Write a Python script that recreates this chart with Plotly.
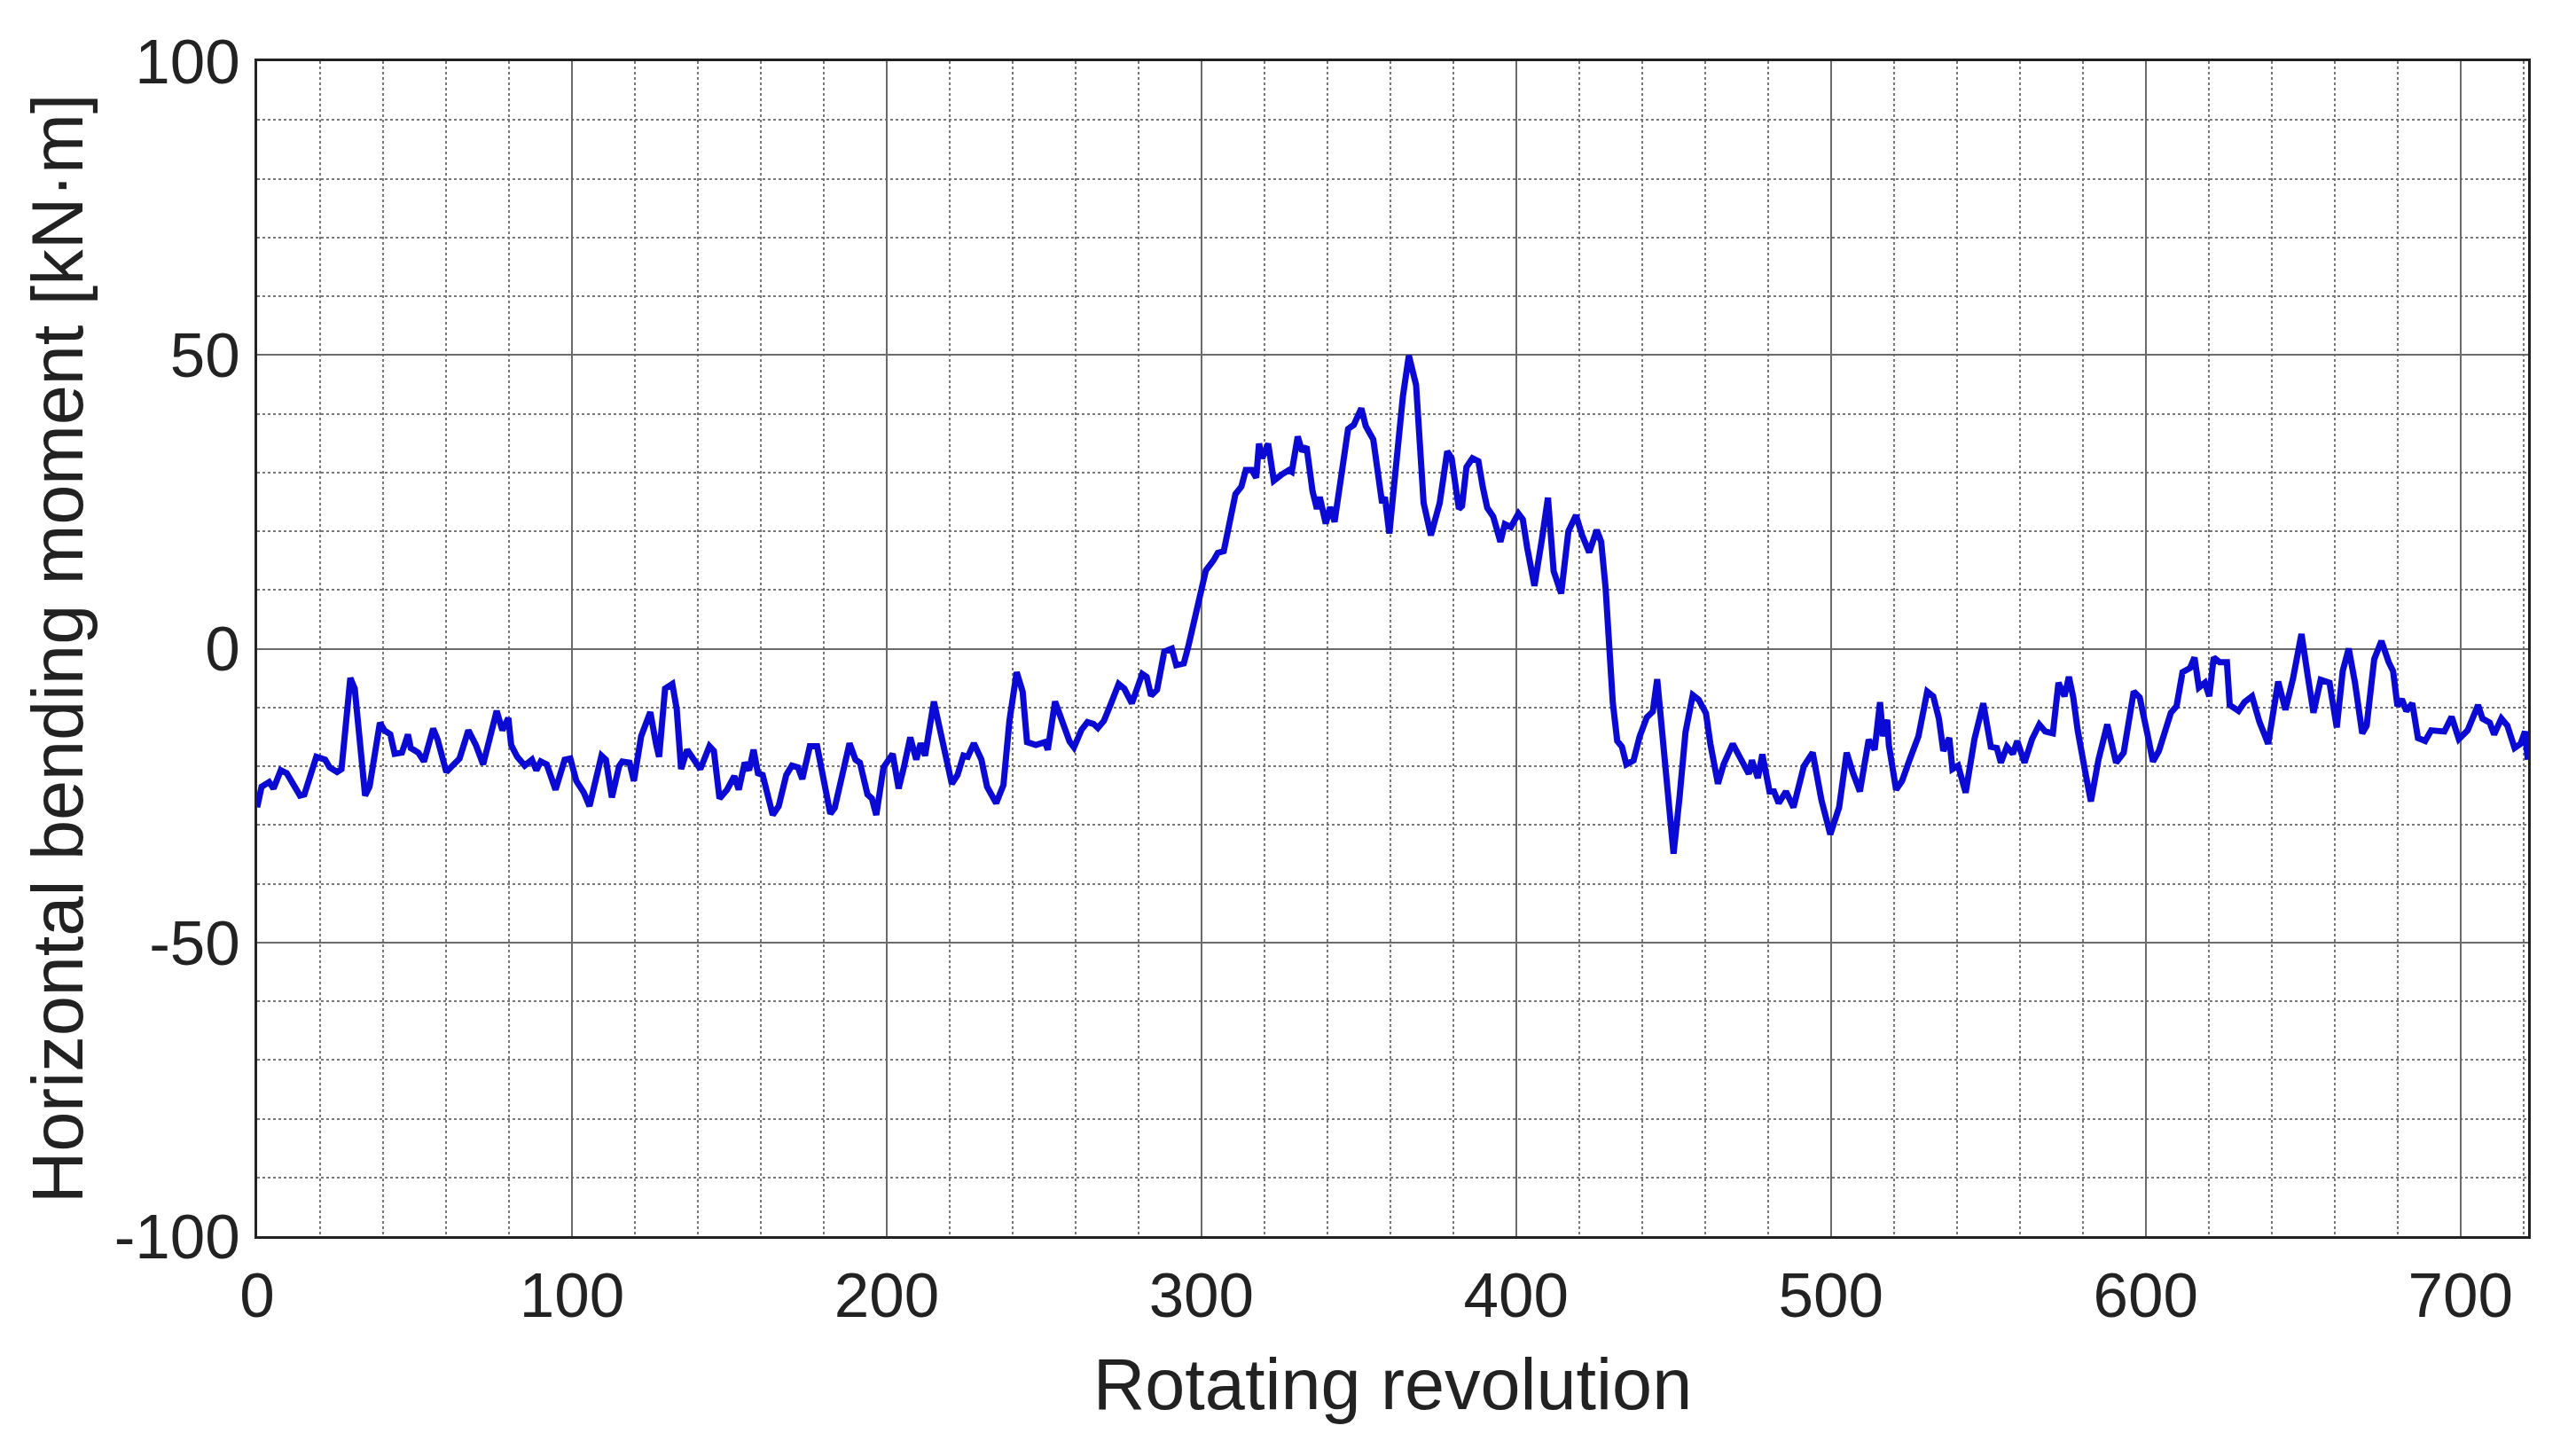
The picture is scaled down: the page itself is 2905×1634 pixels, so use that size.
import plotly.graph_objects as go

revolution = [
    0, 1.4, 3.8, 5.2, 7.5, 9.4, 13.6, 15, 18.8, 21.6, 23, 25.4, 26.8, 29.6, 31, 34.3, 35.7, 39, 40.4, 42.3,
    43.7, 46, 47.9, 48.8, 51.2, 53, 55.9, 57.3, 60.1, 62.9, 64.3, 67.1, 69.5, 71.8, 73.2, 76.1, 77.9, 79.8,
    80.7, 82.6, 85, 87.3, 88.7, 90.1, 92, 94.8, 97.7, 99.5, 101.4, 103.8, 105.6, 107, 109.4, 110.8, 112.7,
    115, 116, 118.3, 119.7, 122, 124.9,
    126.8, 127.7, 129.6, 131.9, 133.3, 134.7, 136.6, 138.5, 140.8, 143.7, 145.1, 146.9, 149.3, 151.6, 153,
    154.9, 156.3, 157.7, 159.1, 160.6, 163.8, 165.7, 168.1, 169.9, 171.8, 173.2, 175.6, 177.9, 180.3, 182.1,
    183.5, 185.9, 188.2, 190.1, 191.5, 193.9, 195.3, 196.7, 199, 201.9, 203.8, 205.6, 207.5, 209.4, 210.8,
    212.2, 215, 217.4, 220.7, 222.5, 224.4, 225.8, 227.7, 230.1, 231.9, 234.8, 237.1, 239, 241.3, 243.2,
    244.6, 247.4, 250.3, 251.2, 253.5, 255.4,
    258.1, 259.5, 261.9, 263.8, 265.7, 267.1, 269, 271.3, 273.7, 275.5, 277.9, 281.2, 282.6, 284, 285.9,
    288.2, 290.6, 292, 294.4, 295.8, 298.1, 300, 301.4, 303.8, 305.2, 307.1, 308.9, 310.8, 312.7, 314.1,
    316, 317.4, 318.3, 319.3, 321.2, 323, 325.4, 327.8, 328.7, 330.6, 332, 333.4, 335.3, 336.7, 337.6,
    339.5, 340.9, 342.3, 344.7, 346.6, 348.4, 350.8, 352.2, 354.6, 357.4, 358.3, 359.7, 362.1, 364, 365.9,
    368.2, 370.6, 372.9, 375.7, 378.1, 379.5, 381.8, 382.8, 384.2, 386.1, 388,
    389.4, 390.8, 392.7, 395, 396.4, 398.3, 400.7, 402.1, 403.5, 405.8, 408.2, 410.1, 411.9, 414.3, 416.6,
    419, 420.9, 423.2, 425.6, 427, 428.4, 429.8, 430.7, 432.1, 433.6, 435, 437.3, 439.2, 441.5, 443.4,
    444.8, 446.2, 448.1, 450, 451.9, 453.8, 456.1, 458, 460.3, 461.7, 464.1, 465.9, 468.8, 471.1, 473.9,
    474.9, 476.8, 478.2, 480.5, 481.9, 483.4, 485.7, 488.1, 491.4, 494.2, 497, 499.8, 502.6, 505, 506.9,
    509.2, 512, 513.9,
    515.6, 516.5, 517.9, 518.4, 520.7, 522.6, 525, 527.8, 530.6, 532.5, 534.3, 535.7, 537.6, 538.6, 540.4,
    542.8, 545.6, 548.4, 550.8, 552.7, 554, 555.9, 557.8, 559.2, 561.5, 563.9, 566.2, 568.1, 570.5, 572.3,
    574.2, 575.6, 577, 578.4, 580.8, 582.6, 585, 587.8, 590.6, 593, 596.2, 598.1, 600.5, 602.3, 604.2,
    606.1, 608, 609.8, 611.7, 614.1, 615.5, 616.9, 618.8, 620.2, 621.6, 623.5, 625.8, 626.7, 629.5, 631.4,
    633.8, 636.1, 638.9,
    642.1, 644.4, 646.8, 649.5, 651.4, 653.3, 655.6, 658.4, 660.7, 662.6, 664.5, 666.5, 668.8, 670.2, 672.6,
    674.9, 677.2, 678.6, 680, 681.4, 682.8, 684.7, 686.5, 688.8, 690.7, 694.9, 697.2, 699.5, 702.3, 705.6,
    707, 709.3, 710.7, 713, 714.9, 717.2, 719.1, 720.5, 721.4,
]

moment = [
    -27, -23.5, -22.7, -23.8, -20.7, -21.2, -25, -24.8, -18.4, -18.9, -20.2, -21, -20.5, -5, -6.8, -25, -23.5,
    -12.6, -13.9, -14.6, -17.9, -17.7, -14.6, -16.9, -17.7, -19.2, -13.6, -15.4, -21, -19.4, -18.7, -13.9,
    -16.4, -19.7, -16.4, -10.6, -13.9, -11.8, -16.4, -18.4, -19.9, -18.9, -20.7, -19.2, -19.7, -24, -18.9,
    -18.7, -22.5, -24.5, -26.8, -23.5, -18.2, -18.9, -25.3, -20, -19.2, -19.4, -22.5, -14.9, -10.8,
    -16.4, -18.4, -6.8, -6, -10.3, -20.5, -17.2, -18.7, -20.5, -16.6, -17.4, -25.5, -24, -21.7, -24,
    -19.4, -20.7, -17.2, -21.2, -21.5, -28.3, -26.8, -21.5, -19.9, -20.2, -22.2, -16.6, -16.6, -24, -28.1,
    -27.1, -21, -16.1, -18.9, -19.4, -24.8, -25.5, -28.3, -20.2, -17.9, -23.8, -19.9, -15.1, -18.9, -16.1,
    -18.2, -9, -14.9, -23, -21.5, -18.2, -18.4, -16.1, -18.9, -23.5, -26.3, -23.2, -12.3, -4, -7.3,
    -15.9, -16.4, -15.9, -17.2, -9, -11.8,
    -15.8, -16.8, -13.8, -12.5, -12.8, -13.5, -12.3, -9.3, -6, -6.8, -9.3, -4.3, -4.8, -8, -7,
    -0.5, 0, -2.8, -2.5, 0.3, 5.8, 10.3, 13.3, 15, 16.3, 16.6, 21.8, 26.3, 27.6, 30.4,
    30.4, 29.1, 34.9, 32.4, 34.9, 28.6, 29.6, 30.4, 30.1, 36.1, 33.6, 34.4, 26.8, 23.8, 25.8,
    21.3, 24.1, 21.6, 30.4, 37.4, 38.1, 40.9, 37.9, 35.6, 24.8, 25.8, 19.6, 33.9, 42.9, 49.9,
    44.9, 24.8, 19.3, 24.8, 33.6, 32.4, 23.8, 24.3, 30.9, 32.4, 31.9,
    27.5, 24, 22.5, 18.2, 21.2, 20.7, 23, 22, 17.2, 10.7, 18.7, 25.7, 13.2, 9.4, 20,
    22.7, 19.4, 16.4, 20.2, 18.2, 10.4, -1.7, -9.2, -15.7, -16.7, -19.7, -19, -15, -11.7, -10.7,
    -5.2, -13.2, -22.8, -34.9, -25.3, -14.2, -7.9, -8.7, -11, -16.2, -23, -19.7, -16.2, -18.7, -21.3,
    -19, -22, -18, -24.3, -24.3, -26.3, -24.3, -27, -20, -17.7, -25.8, -31.6, -27, -17.7, -21,
    -24.3, -15.5, -17.2,
    -9.1, -14.9, -12.1, -16.4, -24, -22.5, -18.9, -14.9, -7.3, -8.1, -11.9, -17.4, -15.2, -20.5, -19.9,
    -24.5, -15.4, -9.3, -16.7, -16.9, -19.4, -16.7, -17.9, -15.7, -19.4, -15.4, -12.9, -14.1, -14.4, -5.8,
    -8.1, -4.8, -8.3, -13.9, -21, -26, -18.9, -12.9, -19.4, -17.7, -7.3, -8.3, -14.4, -19.2, -17.4,
    -14.4, -10.9, -9.8, -4, -3.3, -1.5, -6.6, -5.8, -8.1, -1.5, -2.3, -2.3, -9.6, -10.6, -9.1,
    -8.1, -12.4, -16.2,
    -5.6, -10.4, -5.1, 2.5, -4.3, -10.9, -5.3, -5.8, -13.4, -3.8, 0, -5.8, -14.4, -13.1, -1.8,
    1.3, -2.3, -3.8, -9.8, -8.6, -10.6, -9.3, -15.2, -15.7, -13.9, -14.1, -11.6, -15.4, -13.9, -9.6,
    -11.9, -12.6, -14.6, -11.9, -13.1, -16.9, -16.2, -14.1, -18.9,
]

x_ticks = [0, 100, 200, 300, 400, 500, 600, 700]
y_ticks = [-100, -50, 0, 50, 100]

FONT = "Liberation Sans, Arial, sans-serif"

fig = go.Figure()
fig.add_trace(go.Scatter(
    x=revolution, y=moment, mode="lines",
    line=dict(color="#0a0ad4", width=7),
    showlegend=False,
))

axis_common = dict(
    showline=True, linecolor="#222", linewidth=3, mirror=True,
    showgrid=True, gridcolor="#6a6a6a", gridwidth=2,
    zeroline=False, ticks="",
    tickfont=dict(family=FONT, size=71, color="#222"),
)

fig.update_xaxes(
    range=[0, 721.5], tickvals=x_ticks, ticktext=[str(v) for v in x_ticks],
    minor=dict(dtick=20, tick0=0, showgrid=True, gridcolor="#777", griddash="dot", gridwidth=2),
    title=dict(text="Rotating revolution", font=dict(family=FONT, size=81, color="#222"), standoff=34),
    ticklabelstandoff=3,
    **axis_common,
)
fig.update_yaxes(
    range=[-100, 100], tickvals=y_ticks, ticktext=[str(v) for v in y_ticks],
    minor=dict(dtick=10, tick0=0, showgrid=True, gridcolor="#777", griddash="dot", gridwidth=2),
    title=dict(text="Horizontal bending moment [kN·m]", font=dict(family=FONT, size=81, color="#222"), standoff=9),
    ticklabelstandoff=2,
    **axis_common,
)

fig.update_layout(
    width=2889, height=1618, autosize=False,
    margin=dict(l=282, r=46, t=61, b=232),
    paper_bgcolor="white", plot_bgcolor="white",
)

fig.write_html("out.html")
